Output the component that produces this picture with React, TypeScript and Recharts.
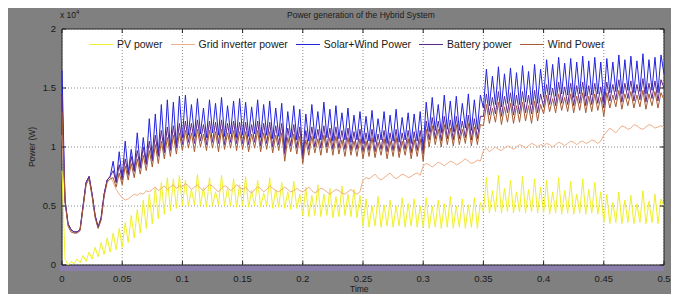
import { ComposedChart, Line, XAxis, YAxis, CartesianGrid, ReferenceArea, Legend } from 'recharts';

// sampling step of the simulation output (s)
const STEP = 0.0025;

const xTicks = [0, 0.05, 0.1, 0.15, 0.2, 0.25, 0.3, 0.35, 0.4, 0.45, 0.5];
const yTicks = [0, 0.5, 1, 1.5, 2];
const legendOrder = ['PV power', 'Grid inverter power', 'Solar+Wind Power', 'Battery power', 'Wind Power'];

// all powers in units of 10^4 W, one row per 0.05 s
const pvPower = [
  0.8, 0.05, 0.0, 0.03, 0.01, 0.05, 0.02, 0.08, 0.03, 0.11, 0.05, 0.15, 0.07, 0.19, 0.09, 0.23, 0.11, 0.27, 0.13, 0.31,
  0.15, 0.36, 0.19, 0.42, 0.23, 0.47, 0.27, 0.55, 0.31, 0.6, 0.35, 0.66, 0.39, 0.7, 0.43, 0.74, 0.46, 0.73, 0.48, 0.76,
  0.5, 0.72, 0.5, 0.64, 0.51, 0.77, 0.5, 0.66, 0.49, 0.74, 0.5, 0.62, 0.51, 0.76, 0.5, 0.65, 0.5, 0.73, 0.49, 0.68,
  0.5, 0.75, 0.49, 0.63, 0.5, 0.72, 0.49, 0.61, 0.5, 0.74, 0.48, 0.64, 0.49, 0.7, 0.48, 0.62, 0.47, 0.71, 0.48, 0.6,
  0.42, 0.66, 0.41, 0.59, 0.42, 0.68, 0.41, 0.6, 0.42, 0.65, 0.4, 0.58, 0.41, 0.67, 0.42, 0.6, 0.41, 0.64, 0.4, 0.59,
  0.33, 0.56, 0.32, 0.5, 0.33, 0.58, 0.32, 0.51, 0.33, 0.55, 0.32, 0.5, 0.33, 0.57, 0.32, 0.52, 0.33, 0.56, 0.32, 0.5,
  0.32, 0.57, 0.31, 0.5, 0.32, 0.55, 0.31, 0.52, 0.32, 0.58, 0.31, 0.5, 0.32, 0.56, 0.31, 0.51, 0.32, 0.57, 0.31, 0.53,
  0.45, 0.74, 0.44, 0.63, 0.45, 0.76, 0.44, 0.65, 0.45, 0.72, 0.44, 0.62, 0.45, 0.75, 0.44, 0.64, 0.45, 0.73, 0.44, 0.66,
  0.44, 0.72, 0.43, 0.62, 0.44, 0.74, 0.43, 0.63, 0.44, 0.71, 0.43, 0.6, 0.44, 0.73, 0.43, 0.64, 0.44, 0.7, 0.43, 0.62,
  0.36, 0.6, 0.35, 0.53, 0.36, 0.62, 0.35, 0.55, 0.36, 0.59, 0.35, 0.52, 0.36, 0.63, 0.35, 0.54, 0.36, 0.6, 0.35, 0.56,
  0.5,
];

const gridInverterPower = [
  1.1, 0.55, 0.35, 0.3, 0.28, 0.28, 0.3, 0.5, 0.7, 0.75, 0.6, 0.42, 0.32, 0.4, 0.6, 0.72, 0.75, 0.7, 0.64, 0.6,
  0.57, 0.55, 0.56, 0.58, 0.6, 0.59, 0.61, 0.6, 0.63, 0.62, 0.64, 0.66, 0.63, 0.65, 0.67, 0.64, 0.66, 0.68, 0.65, 0.67,
  0.66, 0.69, 0.67, 0.64, 0.66, 0.68, 0.65, 0.63, 0.66, 0.68, 0.67, 0.64, 0.62, 0.65, 0.67, 0.66, 0.63, 0.65, 0.68, 0.66,
  0.64, 0.66, 0.63, 0.61, 0.64, 0.66, 0.65, 0.62, 0.64, 0.67, 0.65, 0.63, 0.62, 0.64, 0.66, 0.64, 0.62, 0.63, 0.65, 0.63,
  0.62, 0.64, 0.66, 0.63, 0.61, 0.63, 0.65, 0.64, 0.62, 0.6, 0.62, 0.64, 0.63, 0.61, 0.6, 0.62, 0.64, 0.62, 0.6, 0.62,
  0.72, 0.74, 0.73, 0.75, 0.77, 0.74, 0.72, 0.74, 0.76, 0.78, 0.75, 0.73, 0.75, 0.77, 0.76, 0.74, 0.75, 0.77, 0.78, 0.76,
  0.84, 0.86, 0.85, 0.83, 0.85, 0.87, 0.86, 0.84, 0.86, 0.88, 0.87, 0.85, 0.86, 0.88, 0.9, 0.88, 0.86, 0.87, 0.89, 0.88,
  0.97, 0.99, 0.96, 0.98, 1.0, 0.98, 0.97, 0.99, 1.01, 1.0, 0.98, 1.0, 1.02, 1.01, 0.99, 1.01, 1.03, 1.02, 1.0, 1.02,
  1.01, 1.03, 1.02, 1.0, 1.02, 1.04, 1.03, 1.01, 1.03, 1.05, 1.04, 1.02, 1.04, 1.05, 1.03, 1.04, 1.06, 1.05, 1.03, 1.05,
  1.1, 1.13, 1.16, 1.14, 1.12, 1.15, 1.18, 1.17, 1.15, 1.16, 1.19, 1.18, 1.16, 1.15, 1.17, 1.19, 1.18, 1.16, 1.17, 1.18,
  1.17,
];

const solarWindPower = [
  1.65, 0.55, 0.35, 0.3, 0.28, 0.28, 0.3, 0.5, 0.7, 0.75, 0.6, 0.42, 0.32, 0.4, 0.6, 0.72, 0.75, 0.88, 0.7, 0.96,
  0.74, 1.05, 0.78, 0.98, 0.8, 1.12, 0.83, 1.08, 0.86, 1.24, 0.9, 1.28, 0.93, 1.36, 0.96, 1.4, 0.98, 1.38, 1.0, 1.43,
  1.08, 1.44, 1.1, 1.36, 1.09, 1.41, 1.11, 1.33, 1.08, 1.4, 1.12, 1.37, 1.1, 1.42, 1.09, 1.35, 1.11, 1.39, 1.08, 1.41,
  1.1, 1.38, 1.09, 1.34, 1.11, 1.4, 1.08, 1.36, 1.1, 1.39, 1.07, 1.33, 1.09, 1.37, 0.98, 1.3, 1.08, 1.35, 1.06, 1.32,
  0.92, 1.28, 1.05, 1.36, 1.07, 1.3, 1.06, 1.38, 1.08, 1.32, 1.05, 1.35, 1.07, 1.29, 1.06, 1.33, 1.04, 1.27, 1.06, 1.3,
  1.03, 1.26, 1.05, 1.31, 1.04, 1.24, 1.06, 1.3, 1.03, 1.27, 1.05, 1.32, 1.04, 1.25, 1.06, 1.29, 1.03, 1.28, 1.05, 1.3,
  0.98, 1.38, 1.13, 1.42, 1.14, 1.36, 1.12, 1.44, 1.15, 1.39, 1.13, 1.43, 1.14, 1.37, 1.16, 1.45, 1.14, 1.4, 1.15, 1.44,
  1.33, 1.66, 1.35, 1.6, 1.36, 1.68, 1.34, 1.62, 1.37, 1.67, 1.35, 1.63, 1.36, 1.69, 1.38, 1.64, 1.36, 1.7, 1.37, 1.66,
  1.42, 1.74, 1.44, 1.7, 1.43, 1.76, 1.45, 1.71, 1.44, 1.75, 1.42, 1.72, 1.45, 1.77, 1.43, 1.73, 1.44, 1.76, 1.45, 1.72,
  1.38, 1.75, 1.46, 1.72, 1.47, 1.78, 1.45, 1.74, 1.48, 1.77, 1.46, 1.73, 1.47, 1.79, 1.45, 1.74, 1.48, 1.76, 1.46, 1.78,
  1.62,
];

const batteryPower = [
  1.45, 0.55, 0.35, 0.3, 0.28, 0.28, 0.3, 0.5, 0.7, 0.75, 0.6, 0.42, 0.32, 0.4, 0.6, 0.72, 0.75, 0.8, 0.7, 0.85,
  0.72, 0.9, 0.76, 0.92, 0.79, 0.97, 0.82, 1.0, 0.85, 1.05, 0.88, 1.1, 0.92, 1.14, 0.95, 1.17, 0.97, 1.18, 0.99, 1.2,
  1.02, 1.22, 1.04, 1.2, 1.03, 1.23, 1.05, 1.19, 1.02, 1.22, 1.04, 1.21, 1.03, 1.23, 1.02, 1.2, 1.04, 1.22, 1.03, 1.21,
  1.03, 1.21, 1.02, 1.19, 1.04, 1.22, 1.01, 1.2, 1.03, 1.21, 1.0, 1.18, 1.02, 1.2, 0.94, 1.16, 1.01, 1.19, 0.99, 1.17,
  0.9, 1.14, 0.98, 1.17, 1.0, 1.15, 0.99, 1.18, 1.0, 1.16, 0.98, 1.17, 0.99, 1.14, 0.98, 1.16, 0.97, 1.13, 0.98, 1.15,
  0.96, 1.12, 0.97, 1.15, 0.96, 1.11, 0.98, 1.14, 0.96, 1.12, 0.97, 1.15, 0.96, 1.12, 0.98, 1.14, 0.95, 1.13, 0.97, 1.14,
  0.94, 1.22, 1.06, 1.25, 1.07, 1.22, 1.05, 1.26, 1.07, 1.23, 1.06, 1.26, 1.07, 1.22, 1.08, 1.27, 1.06, 1.24, 1.07, 1.26,
  1.26, 1.45, 1.27, 1.42, 1.28, 1.47, 1.26, 1.43, 1.29, 1.46, 1.27, 1.44, 1.28, 1.47, 1.29, 1.44, 1.28, 1.48, 1.29, 1.45,
  1.34, 1.53, 1.36, 1.5, 1.35, 1.55, 1.37, 1.51, 1.36, 1.54, 1.35, 1.52, 1.37, 1.55, 1.35, 1.52, 1.36, 1.54, 1.37, 1.51,
  1.33, 1.55, 1.39, 1.53, 1.4, 1.57, 1.38, 1.54, 1.41, 1.56, 1.39, 1.53, 1.4, 1.58, 1.38, 1.54, 1.41, 1.56, 1.39, 1.57,
  1.5,
];

const windPower = [
  1.3, 0.53, 0.33, 0.28, 0.27, 0.27, 0.29, 0.48, 0.68, 0.73, 0.58, 0.4, 0.31, 0.38, 0.58, 0.7, 0.73, 0.74, 0.66, 0.78,
  0.68, 0.84, 0.72, 0.86, 0.74, 0.9, 0.77, 0.93, 0.8, 0.97, 0.83, 1.02, 0.86, 1.05, 0.9, 1.08, 0.92, 1.1, 0.94, 1.12,
  0.97, 1.14, 0.99, 1.12, 0.96, 1.15, 1.0, 1.11, 0.97, 1.14, 0.99, 1.13, 0.96, 1.15, 0.98, 1.12, 0.99, 1.14, 0.97, 1.13,
  0.98, 1.13, 0.96, 1.11, 0.99, 1.14, 0.96, 1.12, 0.98, 1.13, 0.95, 1.1, 0.97, 1.12, 0.88, 1.08, 0.96, 1.11, 0.94, 1.09,
  0.86, 1.06, 0.93, 1.09, 0.95, 1.07, 0.93, 1.1, 0.95, 1.08, 0.93, 1.09, 0.94, 1.06, 0.92, 1.08, 0.93, 1.05, 0.92, 1.07,
  0.9, 1.05, 0.92, 1.08, 0.91, 1.04, 0.93, 1.07, 0.9, 1.05, 0.92, 1.08, 0.91, 1.05, 0.93, 1.07, 0.9, 1.06, 0.92, 1.07,
  0.88, 1.15, 1.0, 1.18, 1.02, 1.15, 1.0, 1.19, 1.02, 1.16, 1.01, 1.19, 1.02, 1.15, 1.03, 1.2, 1.01, 1.17, 1.02, 1.19,
  1.18, 1.36, 1.2, 1.33, 1.21, 1.38, 1.19, 1.34, 1.21, 1.37, 1.2, 1.35, 1.21, 1.38, 1.22, 1.35, 1.2, 1.39, 1.22, 1.36,
  1.28, 1.44, 1.3, 1.41, 1.29, 1.45, 1.31, 1.42, 1.3, 1.45, 1.29, 1.43, 1.31, 1.46, 1.29, 1.43, 1.3, 1.45, 1.31, 1.42,
  1.26, 1.46, 1.33, 1.44, 1.34, 1.48, 1.32, 1.45, 1.35, 1.47, 1.33, 1.44, 1.34, 1.48, 1.32, 1.45, 1.35, 1.47, 1.33, 1.46,
  1.4,
];

const data = pvPower.map((pv, i) => ({
  t: Number((i * STEP).toFixed(4)),
  pv,
  grid: gridInverterPower[i],
  solarWind: solarWindPower[i],
  battery: batteryPower[i],
  wind: windPower[i],
}));

const W = 669;
const H = 286;
const PLOT_TOP = 21;
const PLOT_BOTTOM = 257;
const PLOT_LEFT = 54;
const PLOT_RIGHT = 656;
const FONT = '"Liberation Sans", Arial, sans-serif';
const TEXT = '#1a1a1a';

function XTick({ x, payload }: any) {
  return (
    <g>
      <line x1={x} x2={x} y1={PLOT_BOTTOM} y2={PLOT_BOTTOM - 4} stroke="#222" />
      <line x1={x} x2={x} y1={PLOT_TOP} y2={PLOT_TOP + 4} stroke="#222" />
      <text x={x} y={PLOT_BOTTOM + 17} textAnchor="middle" fontSize={9.5} fontFamily={FONT} fill={TEXT}>
        {payload.value}
      </text>
    </g>
  );
}

function YTick({ y, payload }: any) {
  return (
    <g>
      <line x1={PLOT_LEFT} x2={PLOT_LEFT + 4} y1={y} y2={y} stroke="#222" />
      <line x1={PLOT_RIGHT} x2={PLOT_RIGHT - 4} y1={y} y2={y} stroke="#222" />
      <text x={PLOT_LEFT - 6} y={y + 3} textAnchor="end" fontSize={9.5} fontFamily={FONT} fill={TEXT}>
        {payload.value}
      </text>
    </g>
  );
}

function LegendRow({ payload }: any) {
  const items = legendOrder
    .map((name) => (payload || []).find((p: any) => p.value === name))
    .filter(Boolean);
  return (
    <div style={{ display: 'flex', gap: 8, fontSize: 10.5, fontFamily: FONT, color: TEXT, whiteSpace: 'nowrap' }}>
      {items.map((p: any) => (
        <span key={p.value} style={{ display: 'flex', alignItems: 'center' }}>
          <span style={{ width: 24, height: 0, borderTop: `1px solid ${p.color}`, marginRight: 4 }} />
          {p.value}
        </span>
      ))}
    </div>
  );
}

export default function App() {
  return (
    <div style={{ position: 'relative', width: W, height: H, background: '#808080', fontFamily: FONT }}>
      {/* bluish strip under the axes, as in the source figure */}
      <div style={{ position: 'absolute', left: PLOT_LEFT - 2, top: PLOT_BOTTOM, width: PLOT_RIGHT - PLOT_LEFT + 2, height: 6, background: '#8b7dac' }} />
      <div style={{ position: 'absolute', left: 0, width: 706, top: 2, textAlign: 'center', fontSize: 8.5, color: TEXT }}>
        Power generation of the Hybrid System
      </div>
      <div style={{ position: 'absolute', left: 52, top: 1, fontSize: 8.5, color: TEXT }}>
        x 10<sup style={{ fontSize: 6 }}>4</sup>
      </div>
      <div
        style={{
          position: 'absolute',
          left: 24,
          top: 139,
          transform: 'translate(-50%, -50%) rotate(-90deg)',
          fontSize: 8.5,
          color: TEXT,
          whiteSpace: 'nowrap',
        }}
      >
        Power (W)
      </div>
      <div style={{ position: 'absolute', left: 342, top: 276, fontSize: 8.5, color: TEXT }}>Time</div>
      <ComposedChart
        width={W}
        height={H}
        data={data}
        margin={{ top: PLOT_TOP, right: W - PLOT_RIGHT, bottom: H - PLOT_BOTTOM - 22, left: PLOT_LEFT - 40 }}
        style={{ position: 'absolute', left: 0, top: 0 }}
      >
        <CartesianGrid stroke="#8c8c8c" strokeDasharray="1 2" fill="#ffffff" fillOpacity={1} />
        <XAxis
          dataKey="t"
          type="number"
          domain={[0, 0.5]}
          ticks={xTicks}
          height={22}
          axisLine={false}
          tickLine={false}
          tick={<XTick />}
          interval={0}
        />
        <YAxis
          domain={[0, 2]}
          ticks={yTicks}
          width={40}
          axisLine={false}
          tickLine={false}
          tick={<YTick />}
          interval={0}
        />
        <Legend
          layout="horizontal"
          verticalAlign="middle"
          align="center"
          content={<LegendRow />}
          wrapperStyle={{ position: 'absolute', top: 30, left: 81, width: 'auto' }}
        />
        <Line type="linear" dataKey="pv" name="PV power" stroke="#f0f028" strokeWidth={1} dot={false} isAnimationActive={false} />
        <Line type="linear" dataKey="grid" name="Grid inverter power" stroke="#f0ae88" strokeWidth={1} dot={false} isAnimationActive={false} />
        <Line type="linear" dataKey="solarWind" name="Solar+Wind Power" stroke="#2222e0" strokeWidth={1} dot={false} isAnimationActive={false} />
        <Line type="linear" dataKey="battery" name="Battery power" stroke="#5e2a8c" strokeWidth={1} dot={false} isAnimationActive={false} />
        <Line type="linear" dataKey="wind" name="Wind Power" stroke="#a65a32" strokeWidth={1} dot={false} isAnimationActive={false} />
        <ReferenceArea x1={0} x2={0.5} y1={0} y2={2} fill="none" stroke="#222" strokeWidth={1} />
      </ComposedChart>
    </div>
  );
}
